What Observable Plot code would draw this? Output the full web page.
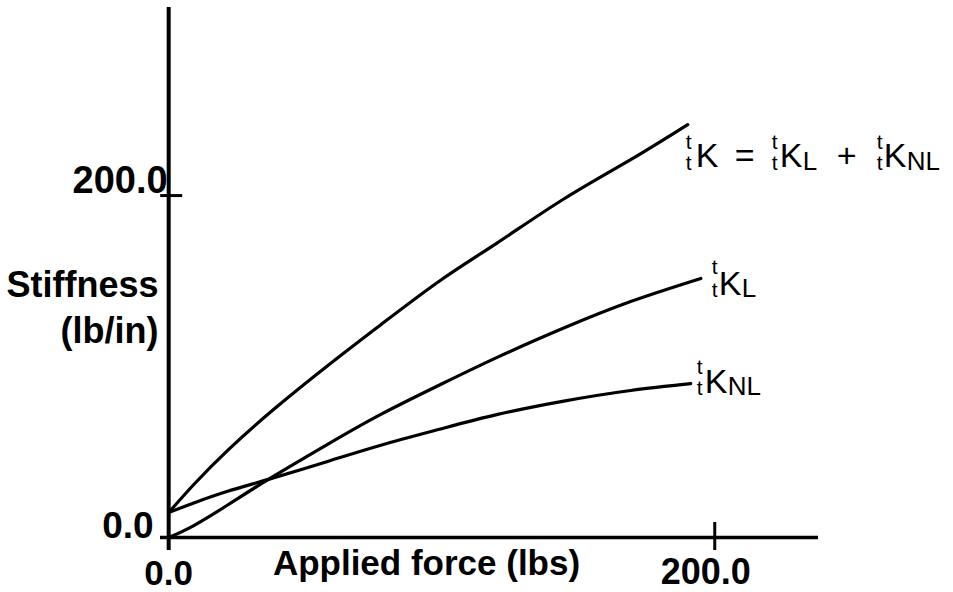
<!DOCTYPE html>
<html>
<head>
<meta charset="utf-8">
<script src="https://cdn.jsdelivr.net/npm/d3@7"></script>
<script src="https://cdn.jsdelivr.net/npm/@observablehq/plot@0.6"></script>
<style>
  html, body { margin: 0; padding: 0; background: #fff; }
  #chart svg { display: block; }
</style>
</head>
<body>
<div id="chart"></div>
<script>
// Applied force (lbs) and stiffness (lb/in)
const totalForce = [0, 9.2, 21.6, 38.5, 58.2, 77.7, 99.6, 120.5, 144.7, 169.2, 190.1];
const totalStiff = [14.6, 31.0, 51.0, 75.0, 100.5, 124.5, 150.5, 172.5, 198.0, 221.0, 241.5];

const linearForce = [0, 9.2, 21.6, 36.5, 58.2, 77.7, 99.6, 120.5, 144.7, 169.2, 194.9];
const linearStiff = [0, 7, 19.0, 34.0, 54.5, 72.0, 89.5, 105.5, 122.5, 138.0, 151.5];

const nonlinForce = [0, 9.2, 21.6, 36.5, 58.2, 77.7, 99.6, 120.5, 144.7, 169.2, 191.2];
const nonlinStiff = [14.6, 20.2, 27.0, 34.0, 44.5, 54.0, 63.5, 72.0, 79.8, 86.0, 90.0];

const xTicks = [0, 200];
const yTicks = [0, 200];
const xAxisExtent = [-3, 238];
const yAxisExtent = [-7.6, 310];

const xTitle = "Applied force (lbs)";
const yTitle = ["Stiffness", "(lb/in)"];

const toRows = (name, xs, ys) => xs.map((x, i) => ({series: name, x, y: ys[i]}));
const total = toRows("K", totalForce, totalStiff);
const linear = toRows("KL", linearForce, linearStiff);
const nonlin = toRows("KNL", nonlinForce, nonlinStiff);
const rows = [...total, ...linear, ...nonlin];

const fmt = d3.format(".1f");
const FONT = "'Liberation Sans', Arial, Helvetica, sans-serif";

// label glyph pieces: text, dx, dy (relative to curve end), size, anchor
function labelMarks(row, parts) {
  return parts.map(([t, dx, dy, s, a]) => Plot.text([row], {
    x: "x", y: "y", text: () => t, dx, dy, fontSize: s,
    textAnchor: a || "start", lineAnchor: "bottom", fill: "black"
  }));
}

const lastTotal = total[total.length - 1];
const lastLinear = linear[linear.length - 1];
const lastNonlin = nonlin[nonlin.length - 1];

const totalLabel = labelMarks(lastTotal, [
  ["t", -2, 24, 21], ["t", -2, 45, 21], ["K", 8, 42, 34],
  ["=", 57, 42, 34, "middle"],
  ["t", 84, 24, 21], ["t", 84, 45, 21], ["K", 92, 42, 34], ["L", 115, 45, 26],
  ["+", 159, 42, 34, "middle"],
  ["t", 189, 24, 21], ["t", 189, 45, 21], ["K", 196, 42, 34], ["NL", 219, 45, 26]
]);
const linearLabel = labelMarks(lastLinear, [
  ["t", 11, -4, 21], ["t", 11, 19, 21], ["K", 18, 17, 34], ["L", 41, 19, 26]
]);
const nonlinLabel = labelMarks(lastNonlin, [
  ["t", 6, -10, 21], ["t", 6, 11, 21], ["K", 14, 9, 34], ["NL", 37, 11, 26]
]);

const bold = {fontSize: 37, fontWeight: "bold", fill: "black", lineAnchor: "bottom"};

const chart = Plot.plot({
  width: 953,
  height: 592,
  marginLeft: 160,
  marginRight: 135,
  marginTop: 7,
  marginBottom: 42,
  x: {domain: xAxisExtent, axis: null},
  y: {domain: yAxisExtent, axis: null},
  style: {fontFamily: FONT, background: "white", color: "black"},
  marks: [
    // axes
    Plot.ruleY([0], {stroke: "black", strokeWidth: 3.5}),
    Plot.ruleX([0], {stroke: "black", strokeWidth: 4}),
    Plot.ruleX(xTicks.slice(1), {x: d => d, y1: 0, y2: 0, insetTop: -15, insetBottom: -13, stroke: "black", strokeWidth: 3}),
    Plot.ruleY(yTicks.slice(1), {y: d => d, x1: 0, x2: 0, insetLeft: -8, insetRight: -14, stroke: "black", strokeWidth: 3}),
    // tick labels
    Plot.text([xTicks[0]], {...bold, fontSize: 35, x: d => d, y: 0, text: d => fmt(d), textAnchor: "middle", dy: 47}),
    Plot.text([xTicks[1]], {...bold, fontSize: 36, x: d => d, y: 0, text: d => fmt(d), textAnchor: "middle", dx: -9, dy: 46}),
    Plot.text([yTicks[0]], {...bold, x: 0, y: d => d, text: d => fmt(d), textAnchor: "end", dx: -15, dy: 0}),
    Plot.text([yTicks[1]], {...bold, fontSize: 38, x: 0, y: d => d, text: d => fmt(d), textAnchor: "end", dx: -1, dy: -3}),
    // axis titles
    Plot.text([xTitle], {...bold, fontSize: 35, text: d => d, frameAnchor: "bottom-left", textAnchor: "middle", dx: 266, dy: 24}),
    Plot.text([yTitle[0]], {...bold, fontSize: 36, text: d => d, frameAnchor: "top-left", textAnchor: "end", dx: -2, dy: 289}),
    Plot.text([yTitle[1]], {...bold, fontSize: 36, text: d => d, frameAnchor: "top-left", textAnchor: "end", dx: -2, dy: 335}),
    // curves
    Plot.line(rows, {x: "x", y: "y", z: "series", stroke: "black", strokeWidth: 3.2, curve: "natural", strokeLinejoin: "round"}),
    ...totalLabel,
    ...linearLabel,
    ...nonlinLabel
  ]
});
document.getElementById("chart").appendChild(chart);
</script>
</body>
</html>
